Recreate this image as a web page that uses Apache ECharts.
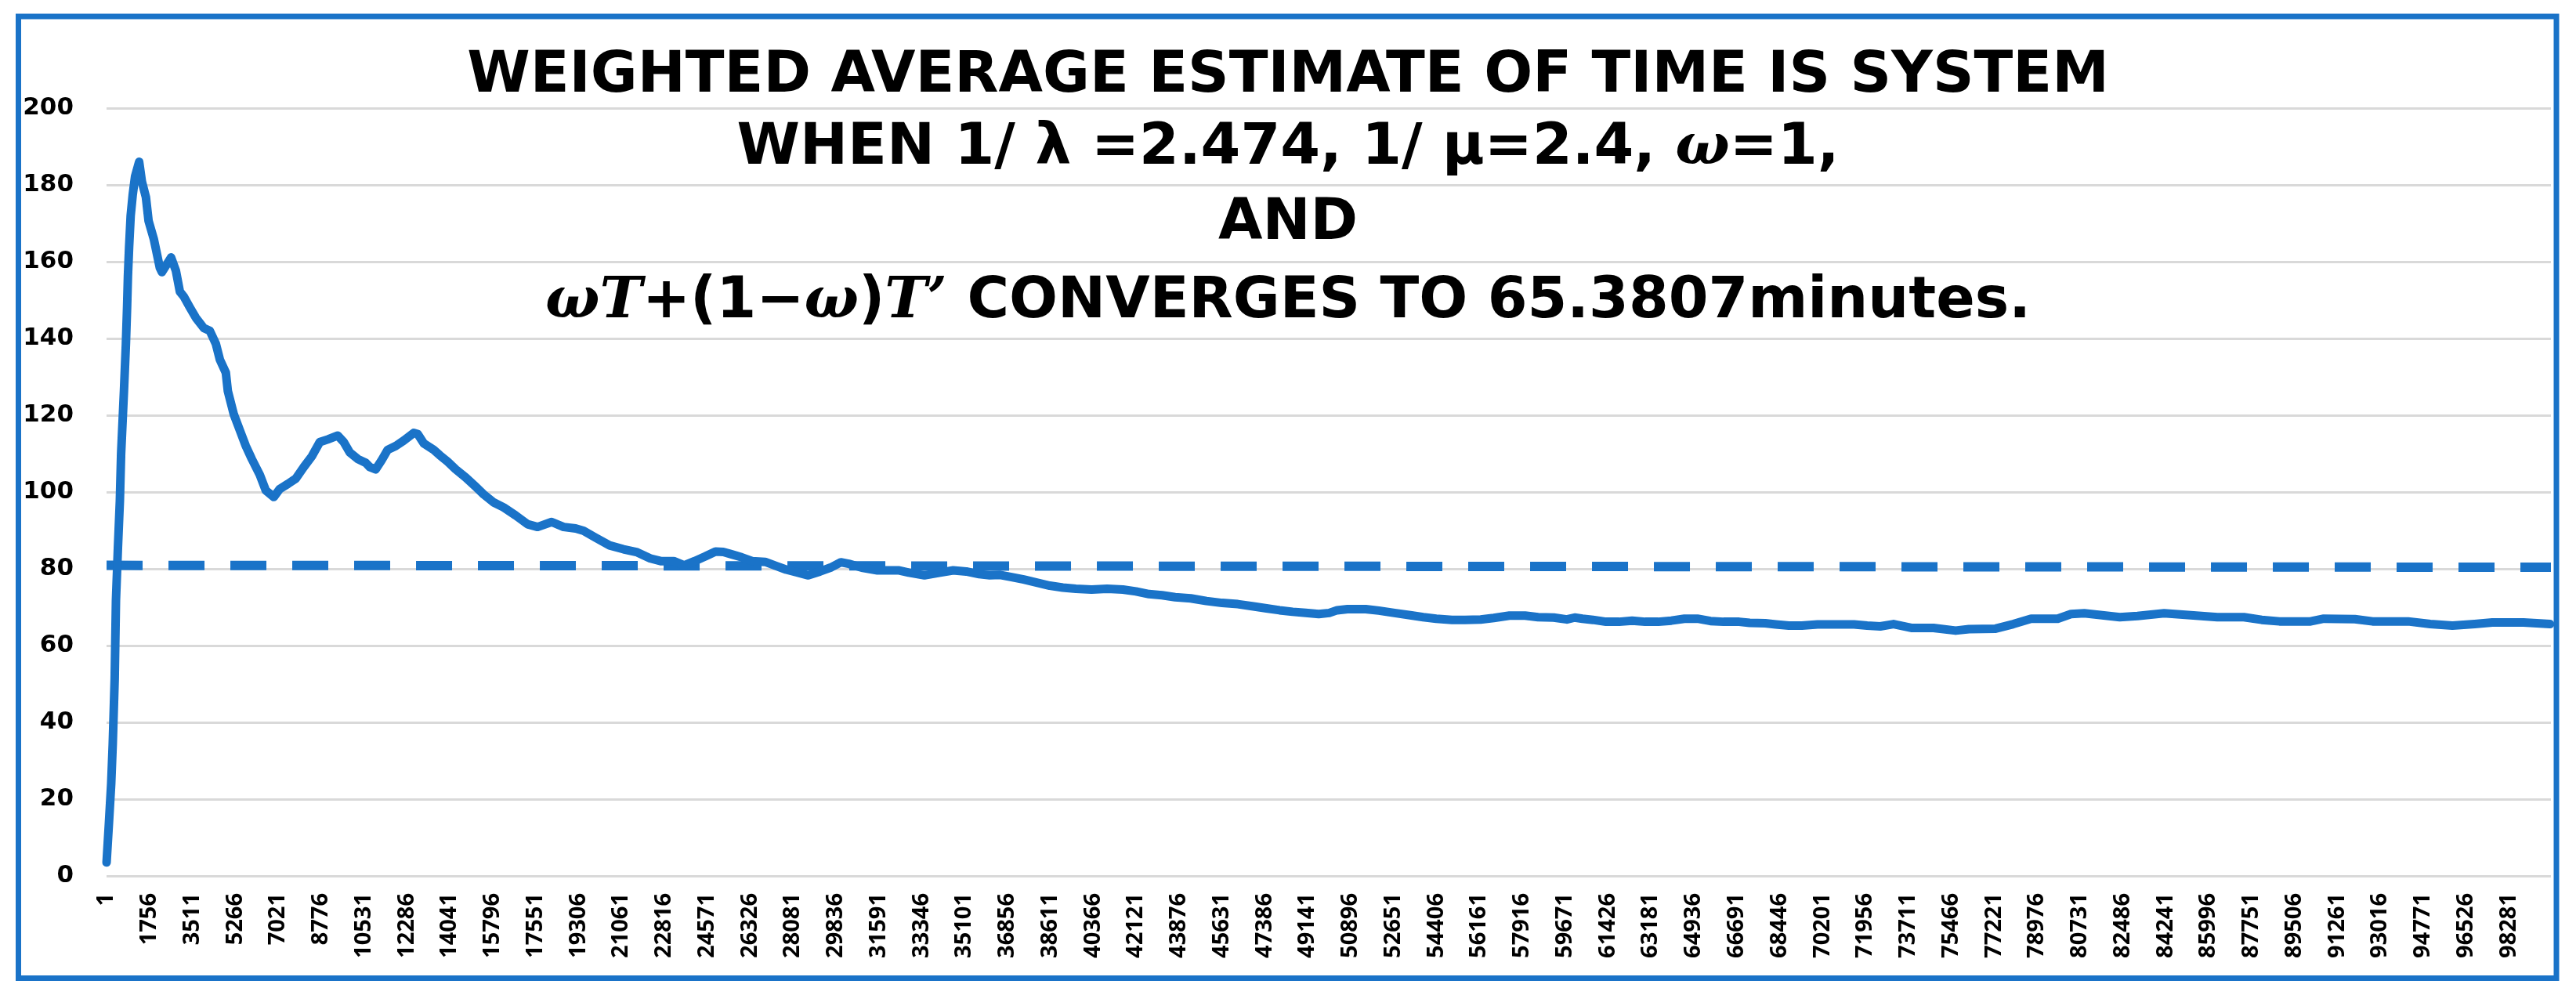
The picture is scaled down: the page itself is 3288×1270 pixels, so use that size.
<!DOCTYPE html>
<html>
<head>
<meta charset="utf-8">
<script src="https://cdn.jsdelivr.net/npm/echarts@6/dist/echarts.min.js"></script>
<style>
  html, body { margin: 0; padding: 0; background: #fff; }
  #chart { width: 3288px; height: 1270px; }
</style>
</head>
<body>
<div id="chart"></div>
<script>
// Iteration number (x) and weighted average estimate (y)
const iterations = [
    1, 100, 190, 253, 333, 385, 465, 545, 596, 712, 792, 840, 875, 923, 987, 1070, 1167, 1333,
    1445, 1610, 1720, 1937, 2180, 2265, 2640, 2835, 3000, 3163, 3407, 3654, 3980, 4225, 4472, 4635, 4880,
    4962, 5208, 5452, 5697, 5943, 6269, 6515, 6843, 7087, 7414, 7742, 8069, 8397, 8724, 9051, 9459,
    9704, 9950, 10277, 10604, 10768, 11012, 11257, 11503, 11830, 12157, 12566, 12730, 12974, 13383,
    13628, 13955, 14282, 14691, 15100, 15427, 15836, 16245, 16736, 17227, 17635, 18208, 18699, 19189,
    19516, 20006, 20579, 21150, 21709, 22243, 22670, 23204, 23631, 24060, 24486, 24913, 25233, 25554,
    25983, 26409, 26944, 27371, 27797, 28227, 28707, 29188, 29614, 30041, 30362, 30896, 31537, 32392,
    32819, 33460, 34102, 34636, 35169, 35703, 36130, 36560, 36986, 37521, 38054, 38588, 39124, 39656,
    40297, 40938, 41580, 42114, 42649, 43181, 43716, 44357, 44998, 45639, 46280, 46921, 47455, 47988,
    48524, 49058, 49591, 50020, 50341, 50767, 51514, 52049, 52690, 53331, 53866, 54399, 55040, 55575,
    56216, 56750, 57392, 58033, 58565, 59207, 59741, 60062, 60382, 60809, 61343, 61878, 62411, 62946,
    63481, 64014, 64549, 65083, 65616, 66151, 66792, 67220, 67861, 68289, 68822, 69356, 69997, 70638,
    71493, 72027, 72561, 73105, 73831, 74739, 75648, 76192, 77280, 78006, 78732, 79820, 80364, 80909,
    81635, 82361, 83087, 84175, 85264, 86353, 87441, 88167, 88893, 90163, 90707, 91978, 92704, 94156,
    95063, 95971, 96879, 97605, 98876, 99965
];
const estimates = [
    3.5, 14, 24, 34.3, 51.3, 71.8, 85.4, 97.7, 110, 126.3, 138.6, 148.1, 156.3, 163.8, 172, 177.4, 182.2, 186,
    180.9, 176.8, 170.6, 165.8, 158.4, 157.3, 161.1, 157.7, 152.2, 150.9, 148.1, 145.4, 142.7, 142, 138.6, 134.5, 131.1,
    126.3, 120.2, 116.1, 112, 108.6, 104.5, 100.4, 98.7, 100.8, 102.1, 103.5, 106.5, 109.3, 113, 113.7, 114.7,
    113, 110.3, 108.6, 107.6, 106.5, 105.9, 108.3, 111, 112, 113.4, 115.4, 115.1, 112.7, 111,
    109.6, 107.9, 105.9, 103.8, 101.4, 99.4, 97.3, 96, 93.9, 91.6, 90.9, 92.2, 90.9, 90.5,
    89.9, 88.1, 86.1, 85.1, 84.3, 82.7, 82.0, 82.0, 80.9, 82.0, 83.2, 84.5, 84.4, 83.8,
    83.0, 82.0, 81.8, 80.8, 79.8, 79.1, 78.3, 79.3, 80.3, 81.7, 81.3, 80.3, 79.6, 79.6,
    79.0, 78.3, 79.0, 79.6, 79.3, 78.6, 78.3, 78.4, 77.9, 77.2, 76.4, 75.6, 75.1, 74.8,
    74.6, 74.8, 74.6, 74.1, 73.4, 73.1, 72.6, 72.3, 71.6, 71.1, 70.8, 70.2, 69.7, 69.2,
    68.8, 68.5, 68.2, 68.5, 69.2, 69.5, 69.5, 69.1, 68.5, 67.9, 67.4, 67.0, 66.7, 66.7,
    66.8, 67.2, 67.8, 67.8, 67.4, 67.3, 66.8, 67.3, 67.0, 66.7, 66.2, 66.2, 66.5, 66.2,
    66.2, 66.5, 67.0, 67.0, 66.4, 66.2, 66.2, 65.9, 65.8, 65.5, 65.2, 65.2, 65.5, 65.5,
    65.5, 65.2, 65.0, 65.6, 64.6, 64.6, 63.9, 64.3, 64.4, 65.6, 67.0, 67.0, 68.2, 68.4,
    67.9, 67.4, 67.7, 68.4, 67.9, 67.4, 67.4, 66.7, 66.3, 66.3, 67.0, 66.9, 66.3, 66.3,
    65.6, 65.2, 65.6, 66.0, 66.0, 65.6
];

// Dashed reference line
const refLineX = [1, 100000];
const refLineY = [80.9, 80.4];

// X axis: labels every 1755 iterations, starting at 1
const xLabelStep = 1755;
const xLabelLast = 98281;
const xMax = 100000;

// Y axis
const yMin = 0;
const yMax = 200;
const yStep = 20;

const titleLines = [
    'WEIGHTED AVERAGE ESTIMATE OF TIME IS SYSTEM',
    'WHEN 1/ λ =2.474, 1/ μ=2.4, {m|ω}=1,',
    'AND',
    '{m|ωT}+(1−{m|ω}){m|T’} CONVERGES TO 65.3807minutes.'
];
const titleTops = [62, 154, 250, 350];

const blue = '#1A73C8';
const chart = echarts.init(document.getElementById('chart'));

const titleFont = {
    fontFamily: 'DejaVu Sans',
    fontWeight: 'bold',
    fontSize: 73,
    lineHeight: 73,
    color: '#000',
    rich: {
        m: {
            fontFamily: 'DejaVu Serif',
            fontStyle: 'italic',
            fontWeight: 'bold',
            fontSize: 73,
            lineHeight: 73,
            color: '#000'
        }
    }
};

const option = {
    animation: false,
    backgroundColor: '#fff',
    title: titleLines.map((t, i) => ({
        text: t,
        left: 'center',
        top: titleTops[i],
        padding: 0,
        textStyle: titleFont
    })),
    grid: {
        left: 136,
        right: 32,
        top: 138,
        bottom: 152,
        containLabel: false,
        outerBoundsMode: 'none'
    },
    xAxis: {
        type: 'value',
        min: 0,
        max: xMax,
        interval: xLabelStep,
        axisLine: { show: false },
        axisTick: { show: false },
        splitLine: { show: false },
        axisLabel: {
            rotate: 90,
            margin: 22,
            showMaxLabel: false,
            fontFamily: 'Open Sans',
            fontWeight: 'bold',
            fontSize: 29,
            color: '#000',
            formatter: v => (v + 1 <= xLabelLast ? String(v + 1) : '')
        }
    },
    yAxis: {
        type: 'value',
        min: yMin,
        max: yMax,
        interval: yStep,
        axisLine: { show: false },
        axisTick: { show: false },
        splitLine: { lineStyle: { color: '#D9D9D9', width: 3 } },
        axisLabel: {
            margin: 42,
            fontFamily: 'DejaVu Sans',
            fontWeight: 'bold',
            fontSize: 31,
            color: '#000'
        }
    },
    graphic: [{
        type: 'rect',
        shape: { x: 23.5, y: 21, width: 3239.5, height: 1227.5 },
        style: { fill: 'none', stroke: blue, lineWidth: 7 },
        silent: true
    }],
    series: [
        {
            type: 'line',
            data: iterations.map((x, i) => [x, estimates[i]]),
            showSymbol: false,
            lineStyle: { color: blue, width: 11, cap: 'round', join: 'round' },
            z: 3
        },
        {
            type: 'line',
            data: refLineX.map((x, i) => [x, refLineY[i]]),
            showSymbol: false,
            lineStyle: { color: blue, width: 12, type: [46, 33], cap: 'butt' },
            z: 2
        }
    ]
};

chart.setOption(option);
</script>
</body>
</html>
